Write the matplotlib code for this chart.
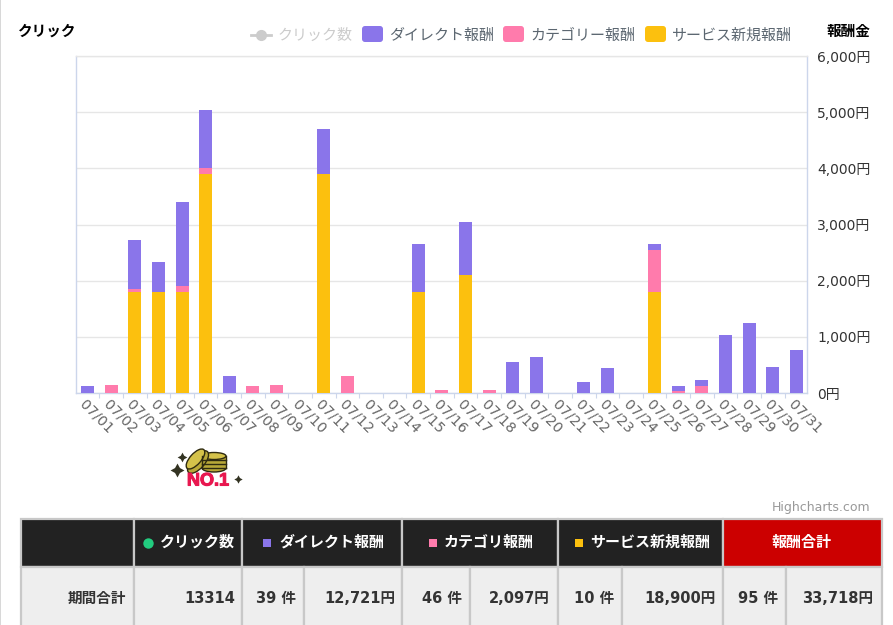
import numpy as np
import matplotlib
matplotlib.use('Agg')
import matplotlib.pyplot as plt
from matplotlib.patches import Rectangle, FancyBboxPatch, Ellipse
from matplotlib.ticker import FuncFormatter, MultipleLocator
import matplotlib.patheffects as pe

plt.rcParams['font.family'] = ['DejaVu Sans', 'Noto Sans CJK JP']

# chart data
days = ['07/%02d' % d for d in range(1, 32)]
service = [0, 0, 1800, 1800, 1800, 3900, 0, 0, 0, 0, 3900, 0, 0, 0, 1800, 0,
           2100, 0, 0, 0, 0, 0, 0, 0, 1800, 0, 0, 0, 0, 0, 0]
category = [0, 150, 50, 0, 100, 100, 0, 130, 150, 0, 0, 310, 0, 0, 0, 60,
            0, 60, 0, 0, 0, 0, 0, 0, 750, 30, 120, 0, 0, 0, 0]
direct = [130, 0, 870, 530, 1500, 1030, 310, 0, 0, 0, 800, 0, 0, 0, 850, 0,
          950, 0, 560, 640, 0, 200, 440, 0, 100, 100, 110, 1030, 1250, 470, 760]

# table text
head_labels = ['クリック数', 'ダイレクト報酬', 'カテゴリ報酬', 'サービス新規報酬', '報酬合計']
row_title = '期間合計'
row_values = ['13314', '39 件', '12,721円', '46 件', '2,097円', '10 件', '18,900円', '95 件', '33,718円']

PURPLE = '#8a75ea'
PINK = '#ff7bac'
YELLOW = '#fcc00e'
GREEN = '#22cc7f'

W, H = 893, 625
fig = plt.figure(figsize=(W / 100, H / 100), dpi=100)

# overlay in pixel coordinates for everything that sits around the plot
pix = fig.add_axes([0, 0, 1, 1], zorder=0)
pix.set_xlim(0, W)
pix.set_ylim(H, 0)
pix.axis('off')

# the plot itself
ax = fig.add_axes([76 / W, 1 - 393 / H, (807 - 76) / W, (393 - 56) / H], zorder=2)
ax.patch.set_alpha(0)
x = np.arange(len(days))
service = np.array(service)
category = np.array(category)
direct = np.array(direct)
bw = 0.55
ax.bar(x, service, bw, color=YELLOW, zorder=3)
ax.bar(x, category, bw, bottom=service, color=PINK, zorder=3)
ax.bar(x, direct, bw, bottom=service + category, color=PURPLE, zorder=3)

ax.set_xlim(-0.487, 30.45)
ax.set_ylim(0, 6000)
ax.yaxis.tick_right()
ax.yaxis.set_major_locator(MultipleLocator(1000))
ax.yaxis.set_major_formatter(FuncFormatter(lambda v, p: f'{int(v):,}円'))
ax.tick_params(axis='y', length=0, pad=7.5, labelsize=10, labelcolor='#333333')
ax.grid(axis='y', color='#e6e6e6', lw=1, zorder=1)

# ticks between the days, labels under the bars
ax.set_xticks(x[1:] - 0.5)
ax.set_xticklabels([])
ax.tick_params(axis='x', length=3.6, width=0.8, color='#ccd6eb')
for i, d in enumerate(days):
    ax.annotate(d, (x[i], 0), xycoords=('data', 'axes fraction'), xytext=(-4, -6.5),
                textcoords='offset points', rotation=-45, rotation_mode='anchor',
                ha='left', va='center', fontsize=10.3, color='#666666')

for s in ['left', 'right', 'bottom']:
    ax.spines[s].set_color('#ccd6eb')
    ax.spines[s].set_linewidth(1)
ax.spines['top'].set_color('#e6e6e6')
ax.spines['top'].set_linewidth(1)

# page edge
pix.add_patch(Rectangle((0, 0), 1, H, fc='#d8d8d8', ec='none'))

# axis titles
pix.text(18, 31, 'クリック', fontsize=10.5, fontweight='bold', color='black', va='center')
pix.text(870, 31, '報酬金', fontsize=10.5, fontweight='bold', color='black', va='center', ha='right')

# legend
pix.plot([251, 271], [35, 35], color='#cccccc', lw=2)
pix.plot([261], [35], 'o', color='#cccccc', ms=7)
pix.text(278, 35, 'クリック数', fontsize=10.8, color='#cccccc', va='center')
legend_items = [(362, PURPLE, 'ダイレクト報酬'), (503, PINK, 'カテゴリー報酬'), (645, YELLOW, 'サービス新規報酬')]
for lx, col, lab in legend_items:
    pix.add_patch(FancyBboxPatch((lx, 26), 21, 16, boxstyle='round,pad=0,rounding_size=3',
                                 fc=col, ec='none'))
    pix.text(lx + 27, 35, lab, fontsize=10.8, color='#5b6670', va='center')

pix.text(870, 507, 'Highcharts.com', fontsize=9, color='#999999', ha='right', va='center')

# NO.1 badge
def sparkle(cx, cy, size):
    pix.plot([cx], [cy], marker=(4, 1, 0), color='#333322', ms=size, mew=0)

sparkle(182, 457, 7)
sparkle(177, 470, 10)
sparkle(238, 479, 6)
coin = '#b8a838'
edge = '#2e2a10'
for cy in [468, 464, 460]:
    pix.add_patch(Ellipse((214, cy), 24, 8, fc=coin, ec=edge, lw=1))
pix.add_patch(Rectangle((202, 456), 24, 12, fc=coin, ec='none'))
for cy in [468, 464, 460]:
    pix.plot([202, 226], [cy, cy], color=edge, lw=1)
pix.plot([202, 202], [456, 468], color=edge, lw=1)
pix.plot([226, 226], [456, 468], color=edge, lw=1)
pix.add_patch(Ellipse((214, 456), 24, 7, fc='#d4c24a', ec=edge, lw=1))
pix.add_patch(Ellipse((198, 462), 13, 28, angle=42, fc=coin, ec=edge, lw=1))
pix.add_patch(Ellipse((195.5, 459), 11, 25, angle=42, fc='#d4c24a', ec=edge, lw=1))
pix.text(208, 481, 'NO.1', fontsize=13, fontweight='bold', family=['Liberation Sans'], color='#e8174f',
         ha='center', va='center', path_effects=[pe.withStroke(linewidth=0.8, foreground='#e8174f')])

# table
top, mid, bot = 519, 567, 640
head_edges = [20.5, 133.7, 242, 402, 558, 723, 881.5]
body_edges = [20.5, 133.7, 242, 304, 402, 470, 558, 622, 723, 786, 881.5]
head_cols = ['#222222'] * 5 + ['#cc0000']
border = '#c8c8c8'
for i in range(len(head_edges) - 1):
    pix.add_patch(Rectangle((head_edges[i], top), head_edges[i + 1] - head_edges[i], mid - top,
                            fc=head_cols[i], ec=border, lw=1.6))
for i in range(len(body_edges) - 1):
    pix.add_patch(Rectangle((body_edges[i], mid), body_edges[i + 1] - body_edges[i], bot - mid,
                            fc='#eeeeee', ec=border, lw=1.6))

head_text_x = [160, 279, 444, 590]
head_mark_x = [148, 267, 433, 579]
head_marks = [('o', GREEN, 7.5), ('s', PURPLE, 6), ('s', PINK, 6), ('s', YELLOW, 6)]
for tx, mx, lab, (mk, col, ms) in zip(head_text_x, head_mark_x, head_labels, head_marks):
    pix.plot([mx], [543], mk, color=col, ms=ms, mew=0)
    pix.text(tx, 542, lab, fontsize=10.8, fontweight='bold', color='white', va='center')
pix.text(802, 542, head_labels[4], fontsize=10.8, fontweight='bold', color='white', va='center', ha='center')

pix.text(126, 603, row_title, fontsize=10.5, fontweight='bold', color='#333333', ha='right', va='baseline')
value_right = [235, 296, 395, 462, 550, 614, 716, 778, 873]
for rx, val in zip(value_right, row_values):
    pix.text(rx, 603, val, fontsize=10.5, fontweight='bold', color='#333333', ha='right', va='baseline')

fig.savefig('out.png', dpi=100)
